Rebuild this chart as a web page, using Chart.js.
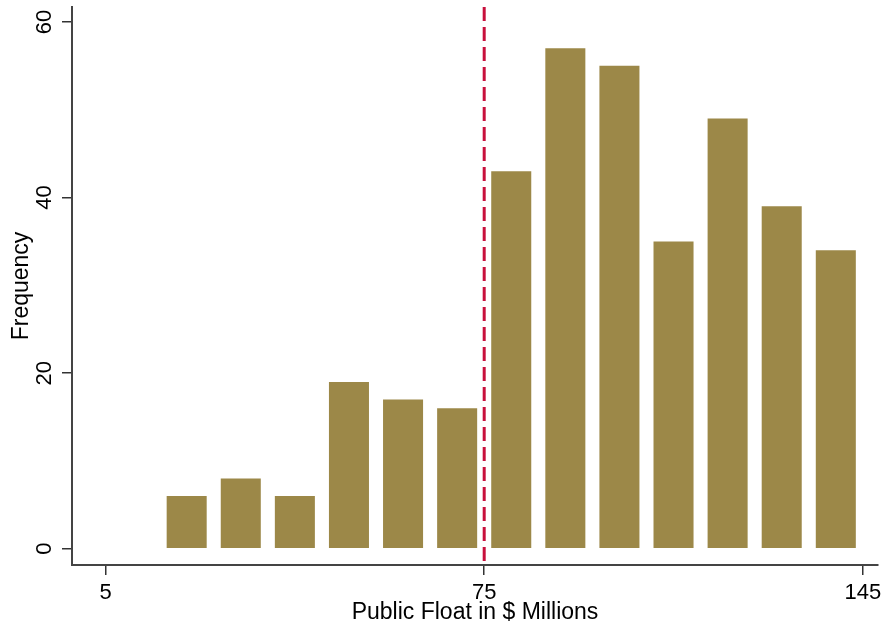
<!DOCTYPE html>
<html>
<head>
    <meta charset="UTF-8" />
    <script src="https://cdn.jsdelivr.net/npm/chart.js@4.4.0/dist/chart.umd.min.js"></script>
    <style>
        html, body { margin: 0; padding: 0; background: #fff; }
        #wrap { width: 888px; height: 629px; }
    </style>
</head>
<body>
    <div id="wrap"><canvas id="chart"></canvas></div>

    <script>
        // histogram bins (centre of each $10M bin) and counts
        const binCenters = [20, 30, 40, 50, 60, 70, 80, 90, 100, 110, 120, 130, 140];
        const frequency = [6, 8, 6, 19, 17, 16, 43, 57, 55, 35, 49, 39, 34];
        const xTicks = [5, 75, 145];
        const yTicks = [0, 20, 40, 60];
        const cutoff = 75;

        const axisFont = { family: 'Liberation Sans, Arial, sans-serif', size: 22 };
        const titleFont = { family: 'Liberation Sans, Arial, sans-serif', size: 23 };

        // y tick labels in the reference are rotated, so draw them here
        const rotatedYLabels = {
            id: 'rotatedYLabels',
            afterDraw(chart) {
                const ctx = chart.ctx;
                const y = chart.scales.y;
                ctx.save();
                ctx.font = '22px Liberation Sans, Arial, sans-serif';
                ctx.fillStyle = '#000';
                ctx.textAlign = 'center';
                ctx.textBaseline = 'middle';
                yTicks.forEach(v => {
                    ctx.save();
                    ctx.translate(45, y.getPixelForValue(v));
                    ctx.rotate(-Math.PI / 2);
                    ctx.fillText(String(v), 0, 0);
                    ctx.restore();
                });
                ctx.restore();
            }
        };

        const ctx = document.getElementById('chart').getContext('2d');
        const myChart = new Chart(ctx, {
            type: 'bar',
            data: {
                datasets: [{
                    type: 'line',
                    data: [{ x: cutoff, y: 61.7 }, { x: cutoff, y: -2 }],
                    borderColor: '#c8103c',
                    borderWidth: 3,
                    borderDash: [14, 6],
                    pointRadius: 0,
                    fill: false
                }, {
                    data: binCenters.map((c, i) => ({ x: c, y: frequency[i] })),
                    backgroundColor: '#9c8848',
                    borderWidth: 0,
                    barPercentage: 0.74,
                    categoryPercentage: 1
                }]
            },
            options: {
                responsive: true,
                maintainAspectRatio: false,
                animation: false,
                layout: { padding: { top: 7, right: 10, bottom: 0, left: 0 } },
                plugins: {
                    legend: { display: false },
                    tooltip: { enabled: false }
                },
                scales: {
                    x: {
                        type: 'linear',
                        offset: false,
                        min: -1.2,
                        max: 147.8,
                        afterBuildTicks: s => { s.ticks = xTicks.map(v => ({ value: v })); },
                        afterFit: s => { s.height = 64; },
                        grid: { offset: false, drawOnChartArea: false, drawTicks: true, tickLength: 10, color: '#333', lineWidth: 1.5 },
                        border: { color: '#444', width: 2 },
                        ticks: { color: '#000', font: axisFont, padding: 5, maxRotation: 0 },
                        title: { display: true, text: 'Public Float in $ Millions', color: '#000', font: titleFont, padding: { top: 0, bottom: 3 } }
                    },
                    y: {
                        min: -1.85,
                        max: 61.7,
                        afterBuildTicks: s => { s.ticks = yTicks.map(v => ({ value: v })); },
                        afterFit: s => { s.width = 72; },
                        grid: { drawOnChartArea: false, drawTicks: true, tickLength: 10, color: '#333', lineWidth: 1.5 },
                        border: { color: '#444', width: 2 },
                        ticks: { display: false },
                        title: { display: true, text: 'Frequency', color: '#000', font: titleFont, padding: { top: 8, bottom: 0 } }
                    }
                }
            },
            plugins: [rotatedYLabels]
        });
    </script>
</body>
</html>
